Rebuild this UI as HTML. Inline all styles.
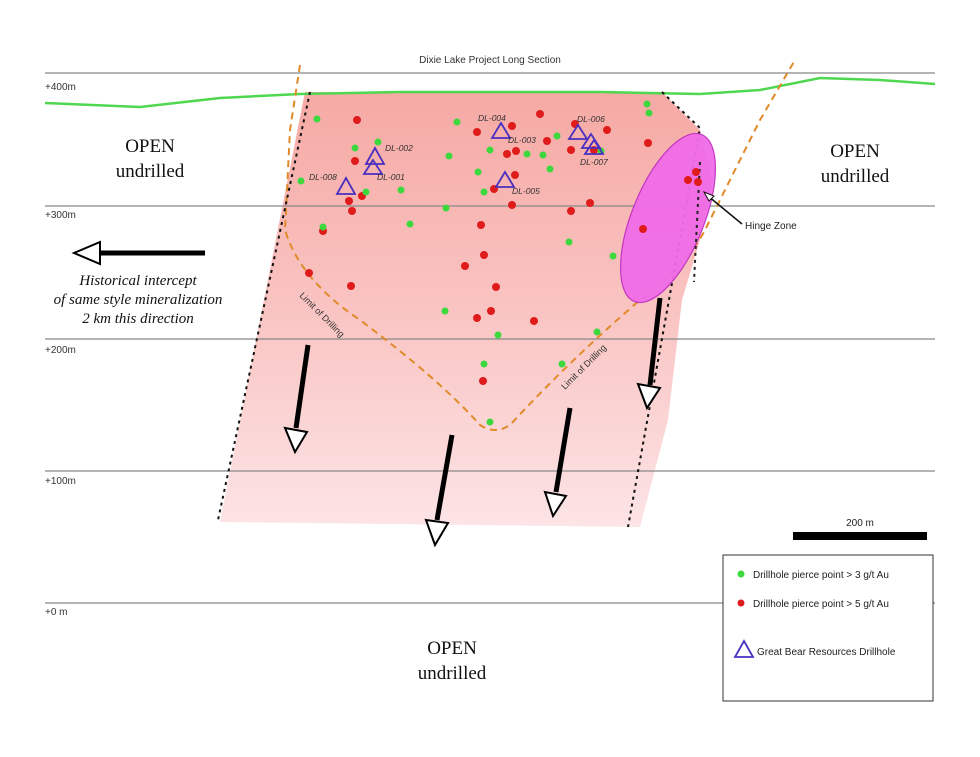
<!DOCTYPE html>
<html><head><style>body{margin:0;background:#fff}svg{display:block}</style></head><body>
<svg width="980" height="757" viewBox="0 0 980 757" font-family="Liberation Sans, sans-serif">
<defs>
<linearGradient id="g" x1="0" y1="0" x2="0" y2="1"><stop offset="0" stop-color="#f6a9a4"/><stop offset="0.5" stop-color="#f9c4c2"/><stop offset="1" stop-color="#fde4e6"/></linearGradient>
</defs>
<rect width="980" height="757" fill="#fff"/>
<path d="M305,92 L662,92 L700,130 L712,180 L700,240 L682,300 L668,420 L640,527 L220,522 Z" fill="url(#g)"/>
<g stroke="#888" stroke-width="1.2">
<line x1="45" y1="73" x2="935" y2="73"/><line x1="45" y1="206" x2="935" y2="206"/><line x1="45" y1="339" x2="935" y2="339"/><line x1="45" y1="471" x2="935" y2="471"/><line x1="45" y1="603" x2="935" y2="603"/>
</g>
<g font-size="10" fill="#333"><text x="45" y="90">+400m</text><text x="45" y="218">+300m</text><text x="45" y="353">+200m</text><text x="45" y="484">+100m</text><text x="45" y="615">+0 m</text></g>
<text x="490" y="63" font-size="10" text-anchor="middle" fill="#333">Dixie Lake Project Long Section</text>
<polyline points="45,103 140,107 220,98 300,94 400,92 500,92 600,92 700,94 760,90 820,78 880,80 935,84" fill="none" stroke="#4fd84f" stroke-width="2.5"/>
<path d="M300,65 L290,130 L285,230 Q300,280 360,320 Q440,380 480,425 Q495,435 510,425 Q570,360 640,300 Q690,260 705,230 L760,120 L795,60" fill="none" stroke="#e08a2a" stroke-width="2" stroke-dasharray="7,5"/>
<g stroke="#111" stroke-width="2" stroke-dasharray="3,4" fill="none">
<path d="M310,92 L218,520"/><path d="M662,92 L700,128 L628,527"/>
</g>
<ellipse cx="668" cy="218" rx="36" ry="90" transform="rotate(22 668 218)" fill="#f06ce8" stroke="#c030c0" stroke-width="1.2" opacity="0.95"/>
<line x1="700" y1="162" x2="694" y2="282" stroke="#222" stroke-width="2" stroke-dasharray="3,4"/>
<g fill="#e01b1b">
<circle cx="357" cy="120" r="4"/><circle cx="355" cy="161" r="4"/><circle cx="349" cy="201" r="4"/><circle cx="352" cy="211" r="4"/><circle cx="362" cy="196" r="4"/><circle cx="323" cy="231" r="4"/><circle cx="309" cy="273" r="4"/><circle cx="351" cy="286" r="4"/>
<circle cx="477" cy="132" r="4"/><circle cx="512" cy="126" r="4"/><circle cx="540" cy="114" r="4"/><circle cx="547" cy="141" r="4"/><circle cx="507" cy="154" r="4"/><circle cx="516" cy="151" r="4"/><circle cx="515" cy="175" r="4"/><circle cx="494" cy="189" r="4"/><circle cx="512" cy="205" r="4"/><circle cx="481" cy="225" r="4"/><circle cx="484" cy="255" r="4"/><circle cx="465" cy="266" r="4"/><circle cx="477" cy="318" r="4"/><circle cx="491" cy="311" r="4"/><circle cx="534" cy="321" r="4"/><circle cx="483" cy="381" r="4"/><circle cx="496" cy="287" r="4"/>
<circle cx="571" cy="150" r="4"/><circle cx="575" cy="124" r="4"/><circle cx="607" cy="130" r="4"/><circle cx="571" cy="211" r="4"/><circle cx="590" cy="203" r="4"/><circle cx="648" cy="143" r="4"/><circle cx="643" cy="229" r="4"/><circle cx="688" cy="180" r="4"/><circle cx="696" cy="172" r="4"/><circle cx="698" cy="182" r="4"/><circle cx="594" cy="150" r="4"/>
</g>
<g fill="#3dd83d">
<circle cx="317" cy="119" r="3.5"/><circle cx="355" cy="148" r="3.5"/><circle cx="378" cy="142" r="3.5"/><circle cx="301" cy="181" r="3.5"/><circle cx="401" cy="190" r="3.5"/><circle cx="366" cy="192" r="3.5"/><circle cx="410" cy="224" r="3.5"/><circle cx="323" cy="227" r="3.5"/>
<circle cx="457" cy="122" r="3.5"/><circle cx="449" cy="156" r="3.5"/><circle cx="490" cy="150" r="3.5"/><circle cx="478" cy="172" r="3.5"/><circle cx="484" cy="192" r="3.5"/><circle cx="446" cy="208" r="3.5"/><circle cx="543" cy="155" r="3.5"/><circle cx="550" cy="169" r="3.5"/><circle cx="557" cy="136" r="3.5"/><circle cx="527" cy="154" r="3.5"/><circle cx="445" cy="311" r="3.5"/><circle cx="498" cy="335" r="3.5"/><circle cx="484" cy="364" r="3.5"/><circle cx="490" cy="422" r="3.5"/><circle cx="562" cy="364" r="3.5"/>
<circle cx="647" cy="104" r="3.5"/><circle cx="649" cy="113" r="3.5"/><circle cx="569" cy="242" r="3.5"/><circle cx="613" cy="256" r="3.5"/><circle cx="597" cy="332" r="3.5"/><circle cx="601" cy="151" r="3.5"/>
</g>
<g fill="none" stroke="#4a2fc0" stroke-width="1.8">
<path d="M375,148 L366,164 L384,164 Z"/><path d="M373,160 L364,174 L382,174 Z"/><path d="M346,178 L337,194 L355,194 Z"/><path d="M501,123 L492,138 L510,138 Z"/><path d="M505,172 L496,187 L514,187 Z"/><path d="M578,125 L569,139 L587,139 Z"/><path d="M591,134 L582,148 L600,148 Z"/><path d="M594,140 L585,154 L603,154 Z"/>
</g>
<g font-size="8.5" font-style="italic" fill="#333">
<text x="385" y="151">DL-002</text><text x="377" y="180">DL-001</text><text x="309" y="180">DL-008</text><text x="478" y="121">DL-004</text><text x="508" y="143">DL-003</text><text x="512" y="194">DL-005</text><text x="577" y="122">DL-006</text><text x="580" y="165">DL-007</text>
</g>
<line x1="742" y1="224" x2="708" y2="196" stroke="#111" stroke-width="1.5"/><path d="M704,192 L714,196 L709,201 Z" fill="#fff" stroke="#111"/>
<text x="745" y="229" font-size="10" fill="#222">Hinge Zone</text>
<text x="299" y="296" font-size="9" fill="#333" transform="rotate(45 299 296)">Limit of Drilling</text>
<text x="565" y="390" font-size="9" fill="#333" transform="rotate(-45 565 390)">Limit of Drilling</text>
<g stroke="#000" stroke-width="5" fill="#fff">
<line x1="308" y1="345" x2="296" y2="428"/><line x1="452" y1="435" x2="437" y2="520"/><line x1="570" y1="408" x2="556" y2="492"/><line x1="660" y1="298" x2="650" y2="385"/><line x1="205" y1="253" x2="100" y2="253"/>
</g>
<g fill="#fff" stroke="#000" stroke-width="2">
<path d="M285,428 L295,452 L307,432 Z"/><path d="M426,520 L435,545 L448,523 Z"/><path d="M545,492 L553,516 L566,496 Z"/><path d="M638,384 L647,408 L660,388 Z"/><path d="M100,242 L74,253 L100,264 Z"/>
</g>
<g font-family="Liberation Serif, serif" fill="#111" text-anchor="middle">
<text x="150" y="152" font-size="19">OPEN</text><text x="150" y="177" font-size="19">undrilled</text>
<text x="855" y="157" font-size="19">OPEN</text><text x="855" y="182" font-size="19">undrilled</text>
<text x="452" y="654" font-size="19">OPEN</text><text x="452" y="679" font-size="19">undrilled</text>
<g font-style="italic" font-size="15"><text x="138" y="285">Historical intercept</text><text x="138" y="304">of same style mineralization</text><text x="138" y="323">2 km this direction</text></g>
</g>
<rect x="793" y="532" width="134" height="8" fill="#000"/>
<text x="860" y="526" font-size="10" text-anchor="middle" fill="#222">200 m</text>
<rect x="723" y="555" width="210" height="146" fill="#fff" stroke="#333"/>
<circle cx="741" cy="574" r="3.5" fill="#3dd83d"/><text x="753" y="578" font-size="10" fill="#222">Drillhole pierce point &gt; 3 g/t Au</text>
<circle cx="741" cy="603" r="3.5" fill="#e01b1b"/><text x="753" y="607" font-size="10" fill="#222">Drillhole pierce point &gt; 5 g/t Au</text>
<path d="M744,641 L735,657 L753,657 Z" fill="none" stroke="#4a2fc0" stroke-width="1.8"/><text x="757" y="655" font-size="10" fill="#222">Great Bear Resources Drillhole</text>
</svg>
</body></html>
